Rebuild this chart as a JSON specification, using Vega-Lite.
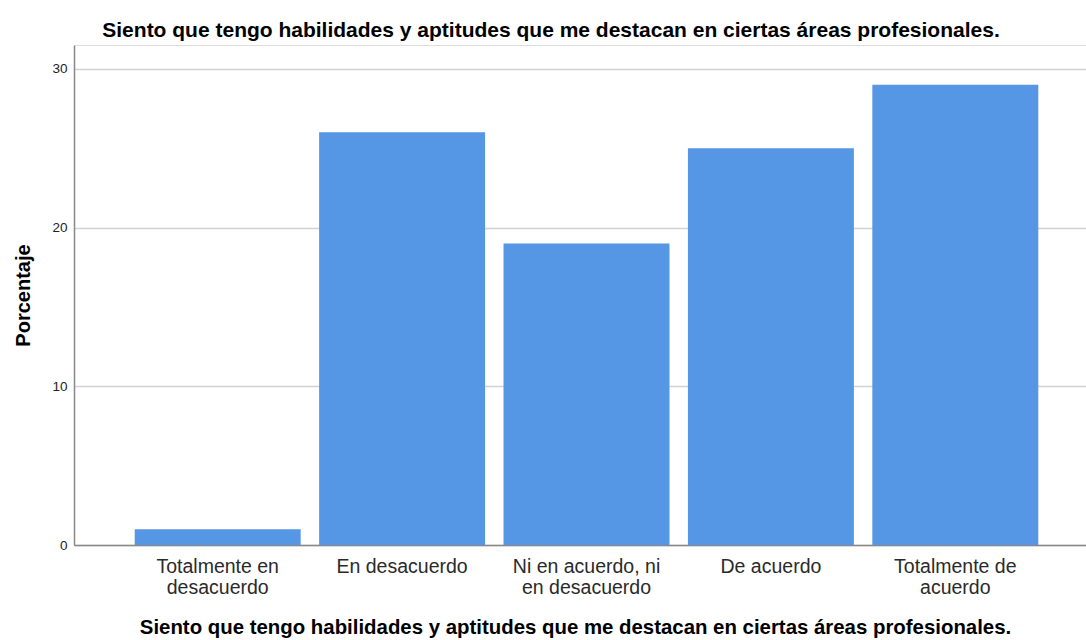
{
  "$schema": "https://vega.github.io/schema/vega-lite/v6.json",
  "width": 1012,
  "height": 500,
  "autosize": {"type": "none"},
  "padding": {"left": 74, "top": 45, "right": 0, "bottom": 95},
  "background": "white",
  "title": {
    "text": "Siento que tengo habilidades y aptitudes que me destacan en ciertas áreas profesionales.",
    "font": "Liberation Sans",
    "fontSize": 21,
    "fontWeight": "bold",
    "color": "black",
    "anchor": "middle",
    "dx": -29,
    "offset": 4
  },
  "data": {
    "values": [
      {"categoria": "Totalmente en desacuerdo", "porcentaje": 1},
      {"categoria": "En desacuerdo", "porcentaje": 26},
      {"categoria": "Ni en acuerdo, ni en desacuerdo", "porcentaje": 19},
      {"categoria": "De acuerdo", "porcentaje": 25},
      {"categoria": "Totalmente de acuerdo", "porcentaje": 29}
    ]
  },
  "mark": {"type": "bar", "color": "#5596E5"},
  "encoding": {
    "x": {
      "field": "categoria",
      "type": "nominal",
      "sort": null,
      "scale": {"paddingInner": 0.1, "paddingOuter": 0.294, "align": 0.56},
      "axis": {
        "title": "Siento que tengo habilidades y aptitudes que me destacan en ciertas áreas profesionales.",
        "titleFont": "Liberation Sans",
        "titleFontSize": 20.4,
        "titleFontWeight": "bold",
        "titleColor": "black",
        "titlePadding": 21,
        "titleX": 501,
        "labelExpr": "datum.label == 'Totalmente en desacuerdo' ? ['Totalmente en', 'desacuerdo'] : datum.label == 'Ni en acuerdo, ni en desacuerdo' ? ['Ni en acuerdo, ni', 'en desacuerdo'] : datum.label == 'Totalmente de acuerdo' ? ['Totalmente de', 'acuerdo'] : datum.label",
        "labelFont": "Liberation Sans",
        "labelFontSize": 19.5,
        "labelLineHeight": 21,
        "labelColor": "#2a2a2a",
        "labelAngle": 0,
        "labelPadding": 12,
        "ticks": false,
        "grid": false,
        "domainColor": "#888888",
        "domainWidth": 1.5
      }
    },
    "y": {
      "field": "porcentaje",
      "type": "quantitative",
      "scale": {"domain": [0, 31.5], "nice": false},
      "axis": {
        "title": "Porcentaje",
        "titleFont": "Liberation Sans",
        "titleFontSize": 20,
        "titleFontWeight": "bold",
        "titleColor": "black",
        "titlePadding": 18,
        "values": [0, 10, 20, 30],
        "labelFont": "Liberation Sans",
        "labelFontSize": 13.5,
        "labelColor": "#222",
        "labelPadding": 7,
        "ticks": false,
        "domainColor": "#888888",
        "domainWidth": 1.5,
        "gridColor": "#d2d2d2",
        "gridWidth": 1.5
      }
    }
  }
}
